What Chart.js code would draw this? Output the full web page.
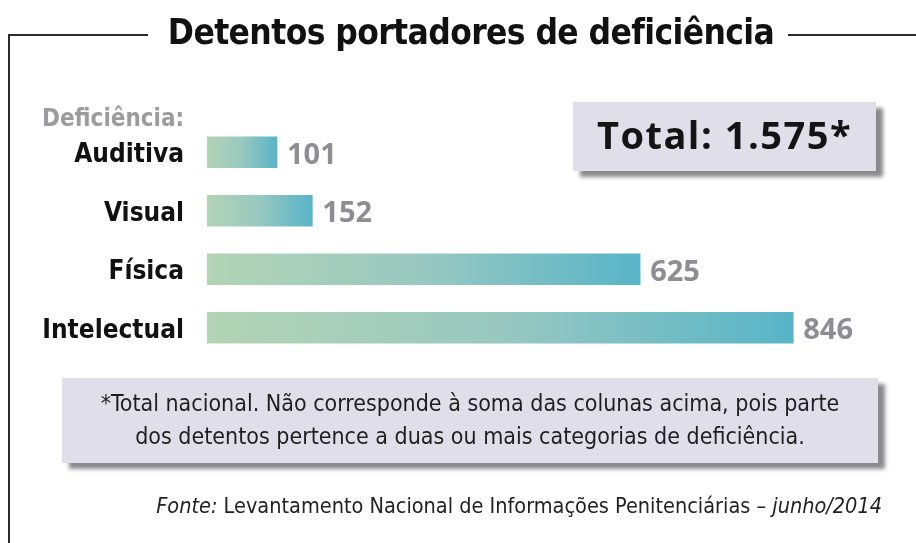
<!DOCTYPE html>
<html lang="pt-BR">
<head>
<meta charset="utf-8">
<title>Detentos portadores de deficiência</title>
<script src="https://cdn.jsdelivr.net/npm/chart.js@4"></script>
<style>
  html, body { margin: 0; padding: 0; background: #fff; }
  #wrap { position: relative; width: 916px; height: 543px; overflow: hidden; font-family: 'Liberation Sans Narrow', 'DejaVu Sans Condensed', 'Noto Sans', sans-serif; }
  #grafico { position: absolute; left: 0; top: 0; }
  .linha { position: absolute; background: #2b2b2b; }
  #titulo { position: absolute; left: 0; width: 942px; top: 12px; text-align: center; font-weight: bold; font-size: 35px; color: #111; letter-spacing: -0.6px; }
  #rotulo { position: absolute; left: 42px; top: 104px; font-weight: bold; font-size: 24px; color: #9c9ba0; }
  .caixa { position: absolute; background: #e0dfe9; box-shadow: 7px 6px 4px #8a8a8e; }
  #total { left: 573px; top: 102px; width: 303px; height: 69px; font-family: 'Open Sans', sans-serif; font-weight: bold; font-size: 38px; letter-spacing: 1.5px; line-height: 64px; text-align: center; color: #141414; }
  #nota { left: 62px; top: 378px; width: 816px; height: 85px; font-size: 23px; line-height: 33px; text-align: center; color: #1e1e1e; padding-top: 9px; box-sizing: border-box; }
  #fonte { position: absolute; right: 34px; top: 493px; font-size: 21.5px; color: #222; }
</style>
</head>
<body>
<div id="wrap">
  <canvas id="grafico" width="916" height="543"></canvas>
  <div class="linha" style="left:8px; top:34px; width:140px; height:2px;"></div>
  <div class="linha" style="left:788px; top:34px; width:128px; height:2px;"></div>
  <div class="linha" style="left:8px; top:34px; width:2px; height:509px;"></div>
  <div id="titulo">Detentos portadores de deficiência</div>
  <div id="rotulo">Deficiência:</div>
  <div class="caixa" id="total">Total: 1.575*</div>
  <div class="caixa" id="nota">*Total nacional. Não corresponde à soma das colunas acima, pois parte<br>dos detentos pertence a duas ou mais categorias de deficiência.</div>
  <div id="fonte"><i>Fonte:</i> Levantamento Nacional de Informações Penitenciárias – <i>junho/2014</i></div>
</div>
<script>
const categorias = ['Auditiva', 'Visual', 'Física', 'Intelectual'];
const detentos = [101, 152, 625, 846];

const ctx = document.getElementById('grafico').getContext('2d');

// gradiente de cada barra, do início ao fim dela
function corBarra(context) {
    const chart = context.chart;
    if (!chart.chartArea || context.dataIndex === undefined) return '#95c6c0';
    const x = chart.scales.x;
    const x0 = x.getPixelForValue(0);
    const x1 = x.getPixelForValue(detentos[context.dataIndex]);
    const g = chart.ctx.createLinearGradient(x0, 0, x1, 0);
    g.addColorStop(0, '#b3d4b5');
    g.addColorStop(0.5, '#98c8c0');
    g.addColorStop(1, '#58b4c8');
    return g;
}

const valores = {
    id: 'valores',
    afterDatasetsDraw(chart) {
        const c = chart.ctx;
        const meta = chart.getDatasetMeta(0);
        c.save();
        c.font = 'bold 29px "Open Sans", sans-serif';
        c.fillStyle = '#8e8d93';
        c.textBaseline = 'middle';
        meta.data.forEach(function(bar, i) {
            c.fillText(detentos[i], bar.x + 10, bar.y + 3);
        });
        c.restore();
    }
};

new Chart(ctx, {
    type: 'bar',
    data: {
        labels: categorias,
        datasets: [{
            data: detentos,
            backgroundColor: corBarra,
            borderWidth: 0,
            barThickness: 31
        }]
    },
    options: {
        indexAxis: 'y',
        responsive: false,
        animation: false,
        layout: {
            padding: { top: 123, bottom: 186, left: 0, right: 16 }
        },
        scales: {
            x: {
                display: false,
                min: 0,
                max: 1000
            },
            y: {
                grid: { display: false },
                border: { display: false },
                afterFit: function(scale) { scale.width = 207; },
                ticks: {
                    padding: 15,
                    labelOffset: 3,
                    color: '#111',
                    font: { family: "'Liberation Sans Narrow', 'DejaVu Sans Condensed', sans-serif", size: 26, weight: 'bold' }
                }
            }
        },
        plugins: {
            legend: { display: false },
            tooltip: { enabled: false }
        }
    },
    plugins: [valores]
});
</script>
</body>
</html>
